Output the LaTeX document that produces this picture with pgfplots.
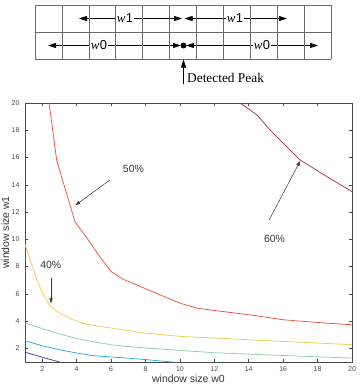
\documentclass[border=0pt]{standalone}
\usepackage{fontspec}
\setmainfont{Liberation Sans}
\setsansfont{Liberation Sans}
\newfontfamily\seriffont{Liberation Serif}
\usepackage{pgfplots}
\pgfplotsset{compat=1.18}
\usetikzlibrary{arrows.meta}

\definecolor{cDarkBlue}{HTML}{3B3F9E}
\definecolor{cCyan}{HTML}{2AAAE0}
\definecolor{cGreen}{HTML}{8CCFA8}
\definecolor{cYellow}{HTML}{F5CC48}
\definecolor{cRed}{HTML}{E8553F}
\definecolor{cDarkRed}{HTML}{A8364A}
\definecolor{gridgray}{HTML}{6A6A6A}
\definecolor{axgray}{HTML}{4A4A4A}

\newcommand{\wlab}[1]{{\seriffont\itshape w}\kern0.3pt{\sffamily #1}}

\begin{document}
\begin{tikzpicture}
\useasboundingbox (0,0) rectangle (360bp,-387bp);

% ---- window diagram (y measured downward from the top edge) ----
\begin{scope}[x=1bp,y=-1bp]
\tikzset{warrow/.style={line width=0.5bp, black, -{Triangle[length=8bp,width=5bp]}},
         wlabel/.style={fill=white, inner sep=1.2bp, font=\fontsize{13}{13}\selectfont}}
% row w1
\draw[warrow] (130,18.5) -- (79,18.5);
\draw[warrow] (130,18.5) -- (182,18.5);
\draw[warrow] (236,18.5) -- (184.5,18.5);
\draw[warrow] (236,18.5) -- (287,18.5);
\node[wlabel] at (125,18.5) {\wlab{1}};
\node[wlabel] at (235,18.5) {\wlab{1}};
% row w0
\draw[warrow] (100,45.5) -- (48,45.5);
\draw[warrow] (100,45.5) -- (181,45.5);
\draw[warrow] (262,45.5) -- (186,45.5);
\draw[warrow] (262,45.5) -- (318,45.5);
\node[wlabel] at (99,45.5) {\wlab{0}};
\node[wlabel] at (262,45.5) {\wlab{0}};
\fill (183.5,45.5) circle (3bp);
% grid
\foreach \i in {0,...,11} {
  \draw[gridgray, line width=0.6bp] ({35+\i*26.9},5) -- ({35+\i*26.9},59);
}
\draw[gridgray, line width=0.6bp] (35,5) -- (331,5);
\draw[gridgray, line width=0.6bp] (35,32) -- (331,32);
\draw[gridgray, line width=0.6bp] (35,59) -- (331,59);
% detected peak marker
\draw[line width=0.5bp, -{Triangle[length=8bp,width=5bp]}] (183.5,84) -- (183.5,59.5);
\node[anchor=base west, inner sep=0pt, font=\seriffont\fontsize{13.4}{13.4}\selectfont] at (187,82.5) {Detected Peak};
\end{scope}

% ---- contour chart ----
\begin{axis}[
  at={(25bp,-362bp)}, anchor=south west,
  scale only axis, width=327bp, height=259bp,
  xmin=1, xmax=20, ymin=1, ymax=20,
  xtick={2,4,...,20}, ytick={2,4,...,20},
  tick pos=both, tick align=inside,
  major tick length=3bp,
  axis line style={axgray, line width=0.6bp},
  every tick/.style={axgray, line width=0.5bp},
  tick label style={font=\fontsize{7}{7}\selectfont, text=axgray},
  /pgf/number format/assume math mode=true,
  xticklabel style={yshift=-1.5bp},
  yticklabel style={xshift=-2bp},
  xlabel={window size w0},
  ylabel={window size w1},
  label style={font=\fontsize{10.5}{10.5}\selectfont, text=black!80},
  xlabel style={at={(axis description cs:0.5,-0.081)}, anchor=base},
  ylabel style={at={(axis description cs:-0.06,0.5)}, anchor=center},
  every axis plot/.style={line width=0.75bp, no markers},
  clip=true,
]
\addplot[cDarkBlue] coordinates {(1,1.72) (2,1.35) (3,1.0)};
\addplot[cCyan] coordinates {(1,2.56) (2,2.19) (3,1.9) (4,1.66) (5,1.46) (6,1.37) (7,1.28) (8,1.18) (9,1.06) (9.6,1.0)};
\addplot[cGreen] coordinates {(1,3.86) (2,3.45) (3,3.05) (4,2.73) (5,2.48) (6,2.27) (7,2.13) (8,2.03) (10,1.85) (12,1.68) (14,1.58) (16,1.48) (18,1.38) (20,1.29)};
\addplot[cYellow] coordinates {(1,9.63) (1.29,8.53) (1.68,7.07) (2.06,5.97) (2.45,5.11) (3.03,4.58) (3.71,4.14) (4.58,3.77) (5.36,3.6) (6,3.49) (7,3.3) (8,3.12) (9,3.0) (10,2.88) (12,2.76) (14,2.63) (16,2.51) (18,2.39) (20,2.27)};
\addplot[cRed] coordinates {(2.4,20) (2.84,15.8) (3.9,11.3) (4.6,10.1) (5.3,8.8) (6,7.64) (6.7,7.07) (8.07,6.34) (10,5.32) (11,4.95) (12,4.78) (14,4.47) (16,4.1) (18,3.9) (20,3.73)};
\addplot[cDarkRed] coordinates {(13.5,20) (14.47,19.13) (15.24,18.02) (16.99,15.82) (18.54,14.6) (20,13.5)};

% level annotations
\tikzset{annot/.style={line width=0.5bp, black!80, -{Triangle[length=5bp,width=3.2bp]}},
         atext/.style={font=\fontsize{10.5}{10.5}\selectfont, text=black!80}}
\draw[annot] (axis cs:5.94,14.36) -- (axis cs:3.93,12.5);
\node[atext] at (axis cs:7.3,15.2) {50\%};
\draw[annot] (axis cs:15.19,11.43) -- (axis cs:16.99,15.75);
\node[atext] at (axis cs:15.5,10.0) {60\%};
\draw[annot] (axis cs:2.51,7.19) -- (axis cs:2.51,5.3);
\node[atext] at (axis cs:2.5,8.1) {40\%};
\end{axis}
\end{tikzpicture}
\end{document}
